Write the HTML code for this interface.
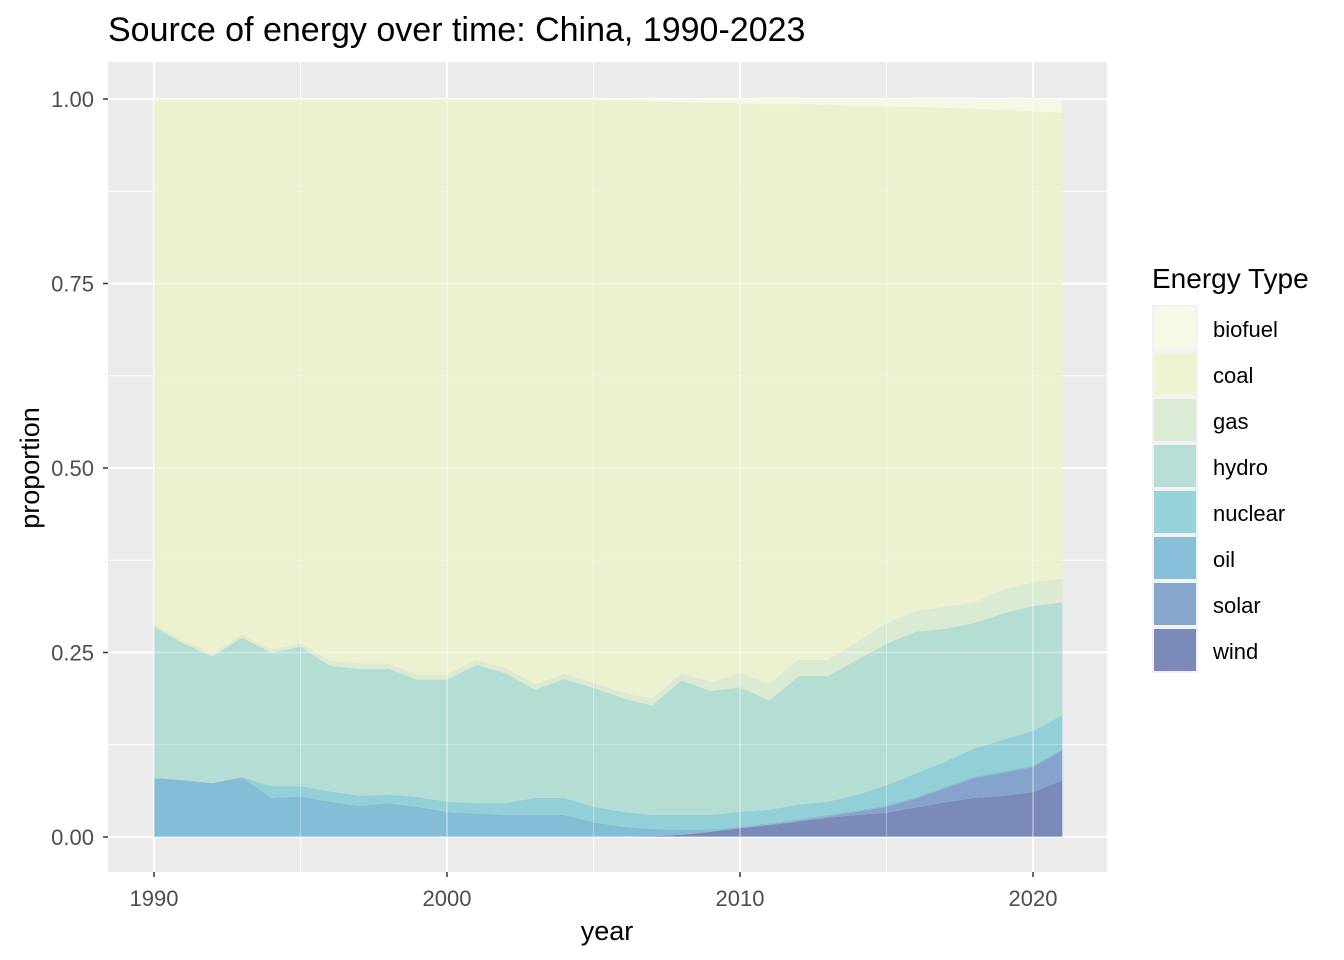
<!DOCTYPE html>
<html><head><meta charset="utf-8"><style>
body{margin:0;background:#fff;font-family:"Liberation Sans",Arial,sans-serif}
svg{display:block}
</style></head><body>
<svg id="chart" width="1344" height="960" xmlns="http://www.w3.org/2000/svg">
<rect x="108" y="62" width="999" height="810" fill="#ebebeb"/>
<g id="grid-under"></g>
<g id="areas"></g>
<g id="grid-over"></g>
<g id="axes"></g>
<text x="108" y="41" font-size="34" fill="#000">Source of energy over time: China, 1990-2023</text>
<text x="607" y="940" font-size="27" text-anchor="middle" fill="#000">year</text>
<text transform="translate(39,468) rotate(-90)" font-size="27" text-anchor="middle" fill="#000">proportion</text>
<g id="legend"></g>
</svg>
<script>
const years=[];for(let y=1990;y<=2021;y++)years.push(y);
const wind=[0,0,0,0,0,0,0,0,0,0,0,0,0,0,0,0,0,0.001,0.003,0.007,0.012,0.016,0.021,0.026,0.030,0.033,0.040,0.047,0.053,0.056,0.061,0.077];
const solar=[0,0,0,0,0,0,0,0,0,0,0,0,0,0,0,0,0,0,0,0,0,0.001,0.001,0.002,0.004,0.008,0.012,0.019,0.027,0.031,0.034,0.040];
const oil=[0.080,0.077,0.073,0.081,0.053,0.055,0.048,0.042,0.046,0.041,0.034,0.032,0.030,0.030,0.030,0.020,0.014,0.010,0.007,0.003,0.002,0.002,0.002,0.002,0.002,0.002,0.002,0.002,0.002,0.002,0.002,0.002];
const nuclear=[0,0,0,0,0.016,0.014,0.014,0.014,0.011,0.013,0.014,0.014,0.016,0.023,0.023,0.021,0.020,0.019,0.020,0.020,0.020,0.018,0.020,0.018,0.021,0.027,0.032,0.034,0.038,0.043,0.047,0.046];
const hydro=[0.205,0.185,0.172,0.189,0.181,0.189,0.170,0.172,0.171,0.159,0.165,0.187,0.176,0.147,0.161,0.161,0.154,0.148,0.182,0.168,0.169,0.148,0.174,0.170,0.183,0.192,0.192,0.180,0.170,0.171,0.169,0.153];
const gas=[0.004,0.004,0.004,0.004,0.004,0.004,0.007,0.007,0.007,0.007,0.007,0.007,0.007,0.007,0.007,0.007,0.008,0.010,0.010,0.012,0.019,0.023,0.022,0.022,0.025,0.028,0.028,0.030,0.028,0.032,0.033,0.032];
const coal=[0.711,0.734,0.751,0.726,0.746,0.738,0.761,0.765,0.765,0.780,0.780,0.760,0.771,0.793,0.779,0.790,0.802,0.809,0.774,0.785,0.772,0.785,0.753,0.752,0.726,0.700,0.683,0.676,0.669,0.650,0.637,0.631];
const biofuel=[0,0,0,0,0,0,0,0,0,0,0,0,0,0,0,0.001,0.002,0.003,0.004,0.005,0.006,0.007,0.007,0.008,0.009,0.010,0.011,0.012,0.013,0.015,0.017,0.019];
const layerNames=["wind","solar","oil","nuclear","hydro","gas","coal","biofuel"];
const layerVals=[wind,solar,oil,nuclear,hydro,gas,coal,biofuel];
const layerColors=["#7b8ab8","#85a3cb","#84bdd5","#93cfd7","#b4ddd4","#dbead2","#ecf2cf","#f7f8e4"];
const legendColors=["#7b8ab8","#87a6cb","#87bfd8","#98d3da","#b7dfd7","#dcebd5","#eef4d2","#f8f8e7"];
const yTicks=[0,0.25,0.5,0.75,1];
const yTickLabels=["0.00","0.25","0.50","0.75","1.00"];
const xTicks=[1990,2000,2010,2020];
const NS="http://www.w3.org/2000/svg";
const X=v=>154+(v-1990)*(1033-154)/30;
const Y=v=>837-v*(837-99);
function el(t,a,p){const e=document.createElementNS(NS,t);for(const k in a)e.setAttribute(k,a[k]);p.appendChild(e);return e;}
const gu=document.getElementById('grid-under'),go=document.getElementById('grid-over');
for(const g of [gu,go]){const op=g===gu?1:0.35;
 for(let v=0.125;v<1.1;v+=0.25){const l=el('line',{x1:108,x2:1107,y1:Y(v),y2:Y(v),stroke:'#fff','stroke-width':1,opacity:op},g);}
 for(const v of [1995,2005,2015]){const l=el('line',{x1:X(v),x2:X(v),y1:62,y2:872,stroke:'#fff','stroke-width':1,opacity:op},g);}
 for(const v of yTicks){const l=el('line',{x1:108,x2:1107,y1:Y(v),y2:Y(v),stroke:'#fff','stroke-width':2,opacity:op},g);}
 for(const v of xTicks){const l=el('line',{x1:X(v),x2:X(v),y1:62,y2:872,stroke:'#fff','stroke-width':2,opacity:op},g);}
}
const areas=document.getElementById('areas');
const n=years.length;
const totals=years.map((_,i)=>layerVals.reduce((s,a)=>s+a[i],0));
let base=new Array(n).fill(0);
layerVals.forEach((arr,li)=>{
 const top=base.map((b,i)=>b+arr[i]/totals[i]);
 let d='';
 for(let i=0;i<n;i++)d+=(i?'L':'M')+X(years[i]).toFixed(1)+','+Y(top[i]).toFixed(1);
 for(let i=n-1;i>=0;i--)d+='L'+X(years[i]).toFixed(1)+','+Y(base[i]).toFixed(1);
 const p=el('path',{d:d+'Z',fill:layerColors[li]},areas);
 
 
 base=top;
});
const ax=document.getElementById('axes');
yTicks.forEach((v,i)=>{
 const t=el('line',{x1:103,x2:108,y1:Y(v),y2:Y(v),stroke:'#333','stroke-width':1.5},ax);
 
 const tx=el('text',{x:94,y:Y(v)+8,'font-size':22,fill:'#4d4d4d','text-anchor':'end'},ax);tx.textContent=yTickLabels[i];
 
});
xTicks.forEach(v=>{
 const t=el('line',{x1:X(v),x2:X(v),y1:872,y2:877,stroke:'#333','stroke-width':1.5},ax);
 
 const tx=el('text',{x:X(v),y:906,'font-size':22,fill:'#4d4d4d','text-anchor':'middle'},ax);tx.textContent=String(v);
 
});
const lg=document.getElementById('legend');
const lt=el('text',{x:1152,y:288,'font-size':28,fill:'#000'},lg);lt.textContent='Energy Type';

const order=[7,6,5,4,3,2,1,0];
order.forEach((li,k)=>{
 const y0=305+k*46;
 const bg=el('rect',{x:1152,y:y0,width:46,height:46,fill:'#f2f2f2'},lg);
 
 const r=el('rect',{x:1154,y:y0+2,width:42,height:42,fill:legendColors[li]},lg);
 
 const t=el('text',{x:1213,y:y0+32,'font-size':22,fill:'#000'},lg);t.textContent=layerNames[li];
 
});
</script>
</body></html>
